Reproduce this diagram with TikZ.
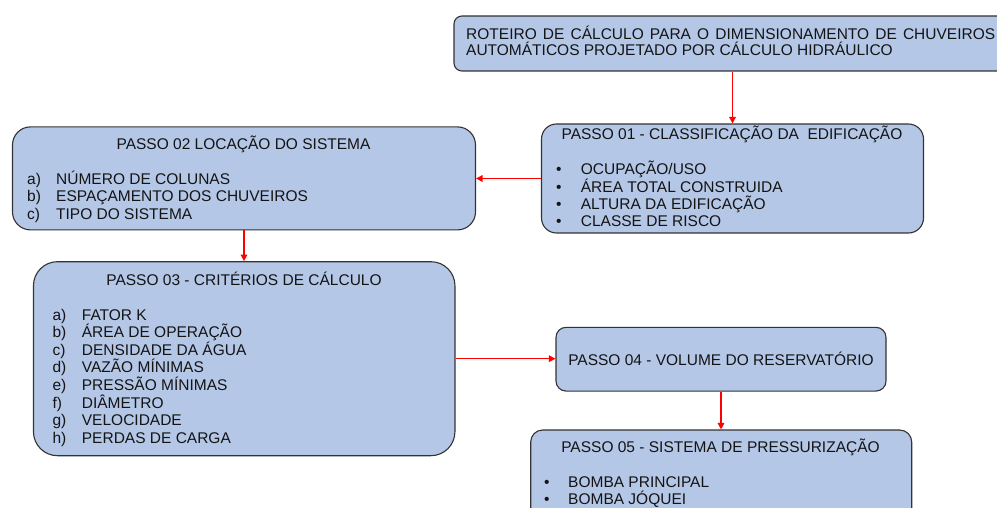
\documentclass[tikz,border=0pt]{standalone}
\usepackage{fontspec}
\setmainfont{Liberation Sans}
\usetikzlibrary{arrows.meta}
\definecolor{boxblue}{HTML}{B4C7E7}
\definecolor{boxline}{HTML}{333333}
\definecolor{txt}{HTML}{141414}
\definecolor{arrred}{HTML}{FF0000}
\tikzset{
  box/.style={draw=boxline, fill=boxblue, line width=1.1pt, inner sep=0pt, shape=rectangle},
  lbl/.style={inner sep=0pt, anchor=base west, text=txt, font=\fontsize{15.5pt}{18pt}\selectfont},
  ttl/.style={inner sep=0pt, anchor=base, text=txt, font=\fontsize{15.5pt}{18pt}\selectfont},
  arr/.style={draw=arrred, line width=1.5pt, -{Triangle[length=6.5pt,width=6.5pt]}}
}
\begin{document}
\begin{tikzpicture}[x=1pt,y=-1pt]
\path[use as bounding box] (0,0) rectangle (997,508);
\clip (0,0) rectangle (997,508);

% boxes
\node[box, rounded corners=8pt, minimum width=556pt, minimum height=55pt] (top) at (732,43.5) {};
\node[box, rounded corners=15pt, minimum width=382pt, minimum height=109pt] (p1) at (732.5,178.5) {};
\node[box, rounded corners=18pt, minimum width=463pt, minimum height=103pt] (p2) at (244,178.4) {};
\node[box, rounded corners=24pt, minimum width=421.5pt, minimum height=194pt] (p3) at (244.2,358.7) {};
\node[box, rounded corners=10pt, minimum width=330pt, minimum height=63.7pt] (p4) at (721,359.2) {};
\node[box, rounded corners=12pt, minimum width=381pt, minimum height=100pt] (p5) at (721.2,480) {};

% connectors
\draw[arr] (top.south -| p1.north) -- (p1.north);
\draw[arr] (p1.west) -- (p1.west -| p2.east);
\draw[arr] (p2.south) -- (p2.south |- p3.north);
\draw[arr] (p3.east) -- (p3.east -| p4.west);
\draw[arr] (p4.south) -- (p4.south |- p5.north);

% top box text
\node[lbl] (t1) at (466,39.3) {\hbox to 529pt{ROTEIRO DE CÁLCULO PARA O DIMENSIONAMENTO DE CHUVEIROS}};
\node[lbl] (t2) at (466,56) {AUTOMÁTICOS PROJETADO POR CÁLCULO HIDRÁULICO};

% passo 01
\node[ttl] (p1t) at (732,139.3) {PASSO 01 - CLASSIFICAÇÃO DA\ \ EDIFICAÇÃO};
\node[lbl] (p1b1) at (556,175) {•};
\node[lbl] (p1i1) at (580.7,175) {OCUPAÇÃO/USO};
\node[lbl] (p1b2) at (556,192.6) {•};
\node[lbl] (p1i2) at (580.7,192.6) {ÁREA TOTAL CONSTRUIDA};
\node[lbl] (p1b3) at (556,210) {•};
\node[lbl] (p1i3) at (580.7,210) {ALTURA DA EDIFICAÇÃO};
\node[lbl] (p1b4) at (556,226.7) {•};
\node[lbl] (p1i4) at (580.7,226.7) {CLASSE DE RISCO};

% passo 02
\node[ttl] (p2t) at (243.5,149.3) {PASSO 02 LOCAÇÃO DO SISTEMA};
\node[lbl] (p2a) at (27,184.3) {a)};
\node[lbl] (p2ai) at (56,184.3) {NÚMERO DE COLUNAS};
\node[lbl] (p2b) at (27,201.6) {b)};
\node[lbl] (p2bi) at (56,201.6) {ESPAÇAMENTO DOS CHUVEIROS};
\node[lbl] (p2c) at (27,219) {c)};
\node[lbl] (p2ci) at (56,219) {TIPO DO SISTEMA};

% passo 03
\node[ttl] (p3t) at (244,285.7) {PASSO 03 - CRITÉRIOS DE CÁLCULO};
\foreach \l/\t [count=\i from 0] in {a)/FATOR K, b)/ÁREA DE OPERAÇÃO, c)/DENSIDADE DA ÁGUA, d)/VAZÃO MÍNIMAS, e)/PRESSÃO MÍNIMAS, f)/DIÂMETRO, g)/VELOCIDADE, h)/PERDAS DE CARGA}{
  \node[lbl] (p3l\i) at (52.3,320+17.6*\i) {\l};
  \node[lbl] (p3i\i) at (81.7,320+17.6*\i) {\t};
}

% passo 04
\node[ttl] (p4t) at (721,365) {PASSO 04 - VOLUME DO RESERVATÓRIO};

% passo 05
\node[ttl] (p5t) at (720.5,452.7) {PASSO 05 - SISTEMA DE PRESSURIZAÇÃO};
\node[lbl] (p5b1) at (544,487.3) {•};
\node[lbl] (p5i1) at (568,487.3) {BOMBA PRINCIPAL};
\node[lbl] (p5b2) at (544,504.5) {•};
\node[lbl] (p5i2) at (568,504.5) {BOMBA JÓQUEI};
\end{tikzpicture}
\end{document}
